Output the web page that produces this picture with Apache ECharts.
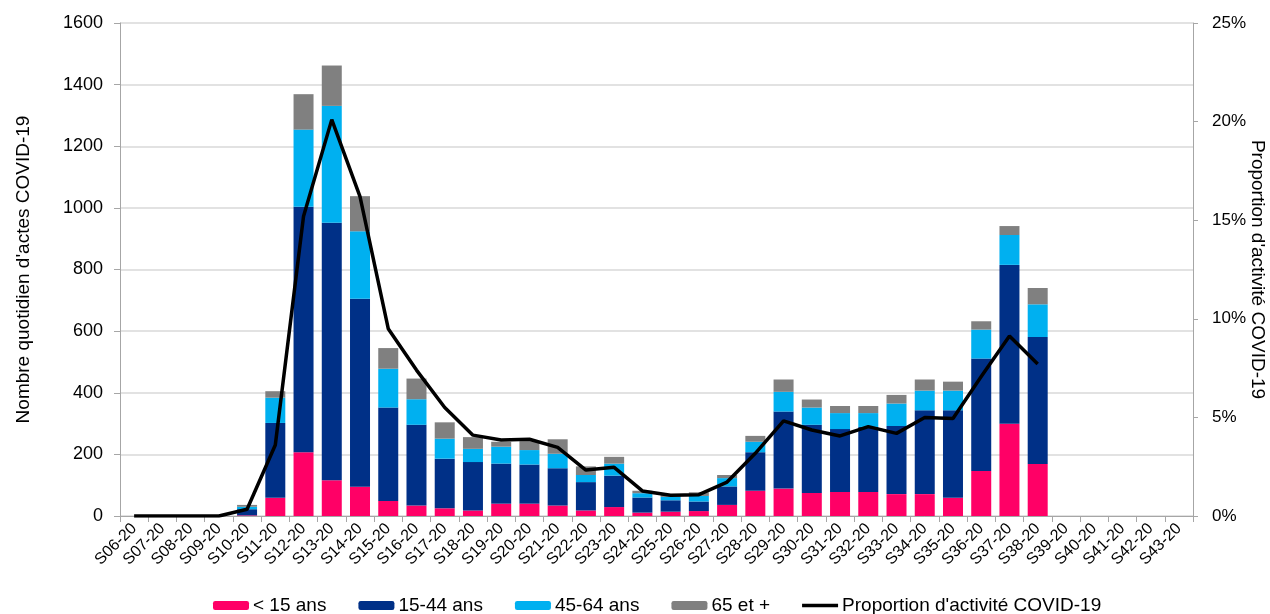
<!DOCTYPE html>
<html>
<head>
<meta charset="utf-8">
<script src="https://cdn.jsdelivr.net/npm/echarts@6/dist/echarts.min.js"></script>
<style>html,body{margin:0;padding:0;background:#fff}#c{width:1270px;height:614px}</style>
</head>
<body>
<div id="c"></div>
<script>
const categories = ['S06-20','S07-20','S08-20','S09-20','S10-20','S11-20','S12-20','S13-20','S14-20','S15-20','S16-20','S17-20','S18-20','S19-20','S20-20','S21-20','S22-20','S23-20','S24-20','S25-20','S26-20','S27-20','S28-20','S29-20','S30-20','S31-20','S32-20','S33-20','S34-20','S35-20','S36-20','S37-20','S38-20','S39-20','S40-20','S41-20','S42-20','S43-20'];
const moins15 = [0,0,0,0,2,59,207,116,95,49,34,25,18,40,40,34,18,29,11,14,16,36,82,89,75,78,78,71,71,59,146,299,169,null,null,null,null,null];
const de15a44 = [0,0,0,0,20,243,797,836,610,303,262,161,157,130,127,121,92,102,49,37,31,60,125,250,221,204,211,221,272,284,365,516,412,null,null,null,null,null];
const de45a64 = [0,0,0,0,8,82,250,379,219,126,83,65,43,55,47,47,23,39,14,11,18,27,34,64,56,52,45,73,64,64,94,97,106,null,null,null,null,null];
const plus65 = [0,0,0,0,6,21,115,131,114,67,67,53,38,16,29,47,28,22,8,8,12,10,19,40,26,23,23,28,36,29,27,29,53,null,null,null,null,null];
const proportion = [0,0,0,0,0.34,3.6,15.2,20.1,16.2,9.5,7.4,5.5,4.1,3.85,3.89,3.48,2.33,2.47,1.27,1.05,1.08,1.72,3.18,4.82,4.36,4.06,4.53,4.19,4.99,4.94,7.07,9.13,7.71,null,null,null,null,null];
const leftTicks = {min:0, max:1600, interval:200};
const rightTicks = {min:0, max:25, interval:5};

const font = 'Liberation Sans, Arial, sans-serif';
const chart = echarts.init(document.getElementById('c'));
const barBase = {type:'bar', stack:'total', barWidth:20, yAxisIndex:0};
chart.setOption({
  animation:false,
  textStyle:{fontFamily:font, color:'#000'},
  grid:{left:120, right:77, top:23, bottom:98, containLabel:false, outerBoundsMode:'none'},
  legend:{
    top:591, left:208, itemWidth:36, itemHeight:9, itemGap:32,
    textStyle:{fontFamily:font, fontSize:19, color:'#000', padding:[0,0,0,-1]},
    data:['< 15 ans','15-44 ans','45-64 ans','65 et +',
      {name:'Proportion d\'activité COVID-19', icon:'path://M0,0L36,0L36,3.5L0,3.5Z'}]
  },
  xAxis:{
    type:'category', data:categories, boundaryGap:true,
    axisLine:{lineStyle:{color:'#a6a6a6'}},
    axisTick:{show:true, alignWithLabel:false, length:6, lineStyle:{color:'#a6a6a6'}},
    axisLabel:{rotate:45, interval:0, fontSize:16, color:'#000', fontFamily:font, margin:10}
  },
  yAxis:[
    {type:'value', min:leftTicks.min, max:leftTicks.max, interval:leftTicks.interval,
     name:'Nombre quotidien d\'actes COVID-19', nameLocation:'middle', nameGap:87, nameMoveOverlap:false,
     nameTextStyle:{fontSize:19, color:'#000', fontFamily:font},
     axisLine:{show:true, lineStyle:{color:'#a6a6a6'}},
     axisTick:{show:true, length:6, lineStyle:{color:'#a6a6a6'}},
     axisLabel:{fontSize:18, color:'#000', fontFamily:font, margin:17, formatter:function(v){return String(v);}},
     splitLine:{lineStyle:{color:'#d9d9d9', width:1.5}}},
    {type:'value', min:rightTicks.min, max:rightTicks.max, interval:rightTicks.interval, position:'right',
     name:'Proportion d\'activité COVID-19', nameLocation:'middle', nameGap:55, nameRotate:-90, nameMoveOverlap:false,
     nameTextStyle:{fontSize:19, color:'#000', fontFamily:font},
     axisLine:{show:true, lineStyle:{color:'#a6a6a6'}},
     axisTick:{show:true, length:5, lineStyle:{color:'#a6a6a6'}},
     axisLabel:{fontSize:17, color:'#000', fontFamily:font, margin:19, formatter:'{value}%'},
     splitLine:{show:false}}
  ],
  series:[
    Object.assign({}, barBase, {name:'< 15 ans', data:moins15, itemStyle:{color:'#FF0066'}}),
    Object.assign({}, barBase, {name:'15-44 ans', data:de15a44, itemStyle:{color:'#003087'}}),
    Object.assign({}, barBase, {name:'45-64 ans', data:de45a64, itemStyle:{color:'#00B0F0'}}),
    Object.assign({}, barBase, {name:'65 et +', data:plus65, itemStyle:{color:'#808080'}}),
    {type:'line', name:'Proportion d\'activité COVID-19', yAxisIndex:1, data:proportion,
     symbol:'none', lineStyle:{color:'#000', width:3.5}, itemStyle:{color:'#000'}, z:10}
  ]
});
</script>
</body>
</html>
